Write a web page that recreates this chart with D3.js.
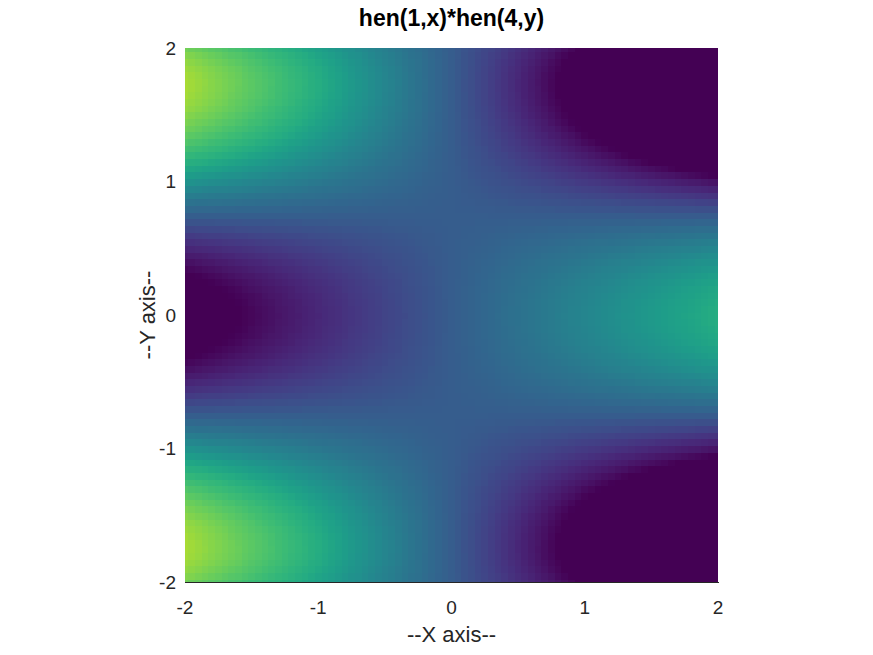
<!DOCTYPE html>
<html>
<head>
<meta charset="utf-8">
<script src="https://cdn.jsdelivr.net/npm/d3@7"></script>
<style>
  html, body { margin: 0; padding: 0; background: #ffffff; }
  svg { display: block; font-family: "Liberation Sans", Arial, Helvetica, sans-serif; }
</style>
</head>
<body>
<svg id="chart" width="873" height="655"></svg>
<script>
// ---- data ----
const titleText = "hen(1,x)*hen(4,y)";
const xLabel = "--X axis--";
const yLabel = "--Y axis--";
const xTicks = [-2, -1, 0, 1, 2];
const yTicks = [-2, -1, 0, 1, 2];

// grid positions (step 0.05)
const xGrid = [-2,-1.95,-1.9,-1.85,-1.8,-1.75,-1.7,-1.65,-1.6,-1.55,-1.5,-1.45,-1.4,-1.35,-1.3,-1.25,-1.2,-1.15,-1.1,-1.05,
  -1,-0.95,-0.9,-0.85,-0.8,-0.75,-0.7,-0.65,-0.6,-0.55,-0.5,-0.45,-0.4,-0.35,-0.3,-0.25,-0.2,-0.15,-0.1,-0.05,
  0,0.05,0.1,0.15,0.2,0.25,0.3,0.35,0.4,0.45,0.5,0.55,0.6,0.65,0.7,0.75,0.8,0.85,0.9,0.95,
  1,1.05,1.1,1.15,1.2,1.25,1.3,1.35,1.4,1.45,1.5,1.55,1.6,1.65,1.7,1.75,1.8,1.85,1.9,1.95,2];
const yGrid = xGrid.slice();

// hen(1,x) at each xGrid point
const hen1X = [-2,-1.95,-1.9,-1.85,-1.8,-1.75,-1.7,-1.65,-1.6,-1.55,-1.5,-1.45,-1.4,-1.35,-1.3,-1.25,-1.2,-1.15,-1.1,-1.05,
  -1,-0.95,-0.9,-0.85,-0.8,-0.75,-0.7,-0.65,-0.6,-0.55,-0.5,-0.45,-0.4,-0.35,-0.3,-0.25,-0.2,-0.15,-0.1,-0.05,
  0,0.05,0.1,0.15,0.2,0.25,0.3,0.35,0.4,0.45,0.5,0.55,0.6,0.65,0.7,0.75,0.8,0.85,0.9,0.95,
  1,1.05,1.1,1.15,1.2,1.25,1.3,1.35,1.4,1.45,1.5,1.55,1.6,1.65,1.7,1.75,1.8,1.85,1.9,1.95,2];

// hen(4,y) at each yGrid point
const hen4Y = [-5,-5.356,-5.628,-5.8215,-5.9424,-5.9961,-5.9879,-5.923,-5.8064,-5.643,-5.4375,-5.1945,-4.9184,-4.6135,-4.2839,-3.9336,-3.5664,-3.186,-2.7959,-2.3995,
  -2,-1.6005,-1.2039,-0.813,-0.4304,-0.0586,0.3001,0.6435,0.9696,1.2765,1.5625,1.826,2.0656,2.28,2.4681,2.6289,2.7616,2.8655,2.9401,2.985,
  3,2.985,2.9401,2.8655,2.7616,2.6289,2.4681,2.28,2.0656,1.826,1.5625,1.2765,0.9696,0.6435,0.3001,-0.0586,-0.4304,-0.813,-1.2039,-1.6005,
  -2,-2.3995,-2.7959,-3.186,-3.5664,-3.9336,-4.2839,-4.6135,-4.9184,-5.1945,-5.4375,-5.643,-5.8064,-5.923,-5.9879,-5.9961,-5.9424,-5.8215,-5.628,-5.356,-5];

// colour mapping (value -> position in viridis)
const colorDomain = [-4.8, 0, 6, 12];
const colorRange = [0, 0.29, 0.62, 0.87];

// ---- layout ----
const svg = d3.select("#chart");
const plot = { left: 185, right: 718, top: 48, bottom: 582 };

const x = d3.scaleLinear().domain([-2, 2]).range([plot.left, plot.right]);
const y = d3.scaleLinear().domain([-2, 2]).range([plot.bottom, plot.top]);
const cpos = d3.scaleLinear().domain(colorDomain).range(colorRange).clamp(true);
const color = v => d3.interpolateViridis(cpos(v));

// cells
const cells = [];
const half = 0.025;
for (let j = 0; j < yGrid.length; j++) {
  for (let i = 0; i < xGrid.length; i++) {
    cells.push({ x: xGrid[i], y: yGrid[j], v: hen1X[i] * hen4Y[j] });
  }
}

svg.append("defs").append("clipPath").attr("id", "clip")
  .append("rect")
  .attr("x", plot.left).attr("y", plot.top)
  .attr("width", plot.right - plot.left).attr("height", plot.bottom - plot.top);

svg.append("g").attr("clip-path", "url(#clip)")
  .attr("shape-rendering", "crispEdges")
  .selectAll("rect").data(cells).join("rect")
  .attr("x", d => x(d.x - half))
  .attr("y", d => y(d.y + half))
  .attr("width", d => x(d.x + half) - x(d.x - half) + 1)
  .attr("height", d => y(d.y - half) - y(d.y + half) + 1)
  .attr("fill", d => color(d.v));

// bottom axis line
svg.append("line")
  .attr("x1", plot.left).attr("x2", plot.right + 1)
  .attr("y1", plot.bottom + 0.5).attr("y2", plot.bottom + 0.5)
  .attr("stroke", "#262626").attr("stroke-width", 1);

// x tick labels
svg.append("g").selectAll("text").data(xTicks).join("text")
  .attr("x", d => x(d))
  .attr("y", 614)
  .attr("text-anchor", "middle")
  .attr("font-size", 19)
  .attr("fill", "#262626")
  .text(d => d);

// y tick labels
svg.append("g").selectAll("text").data(yTicks).join("text")
  .attr("x", 176)
  .attr("y", d => y(d) + 6.5)
  .attr("text-anchor", "end")
  .attr("font-size", 19)
  .attr("fill", "#262626")
  .text(d => d);

// axis labels
svg.append("text")
  .attr("x", (plot.left + plot.right) / 2)
  .attr("y", 642)
  .attr("text-anchor", "middle")
  .attr("font-size", 22)
  .attr("fill", "#262626")
  .text(xLabel);

svg.append("text")
  .attr("transform", `translate(155, ${(plot.top + plot.bottom) / 2}) rotate(-90)`)
  .attr("text-anchor", "middle")
  .attr("font-size", 22)
  .attr("fill", "#262626")
  .text(yLabel);

// title
svg.append("text")
  .attr("x", (plot.left + plot.right) / 2)
  .attr("y", 26)
  .attr("text-anchor", "middle")
  .attr("font-size", 23)
  .attr("font-weight", "bold")
  .attr("fill", "#000000")
  .text(titleText);
</script>
</body>
</html>
